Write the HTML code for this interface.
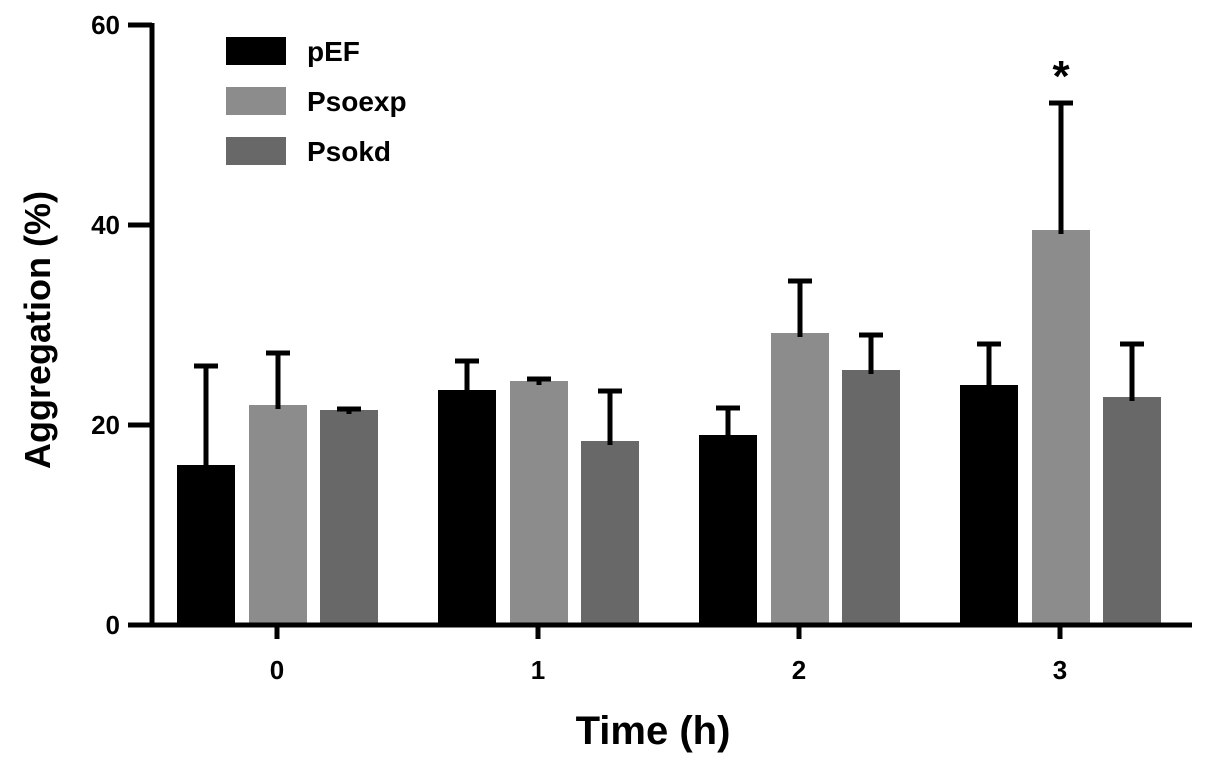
<!DOCTYPE html>
<html><head><meta charset="utf-8"><style>
html,body{margin:0;padding:0;background:#fff;}
svg text{font-family:"Liberation Sans",Arial,sans-serif;font-weight:bold;}
</style></head><body>
<svg id="chart" width="1205" height="763" viewBox="0 0 1205 763" xmlns="http://www.w3.org/2000/svg"></svg>
<script>
const categories = ["0","1","2","3"];
const seriesNames = ["pEF","Psoexp","Psokd"];
const pEF = [16.0, 23.5, 19.0, 24.0];
const pEFErr = [9.9, 2.9, 2.7, 4.1];
const psoexp = [22.0, 24.4, 29.2, 39.5];
const psoexpErr = [5.2, 0.2, 5.2, 12.7];
const psokd = [21.5, 18.4, 25.5, 22.8];
const psokdErr = [0.1, 5.0, 3.5, 5.3];
const yTicks = [0, 20, 40, 60];
const significance = ["", "", "", "*"];

const svg = document.getElementById('chart');
const NS = 'http://www.w3.org/2000/svg';
const colors = ["#000000", "#8c8c8c", "#686868"];
const values = [pEF, psoexp, psokd];
const errs = [pEFErr, psoexpErr, psokdErr];
const y0 = 625, yPx = 10.0;
function yScale(v){ return y0 - v * yPx; }
function xScale(i){ return 277 + i * 261; }
const offsets = [-71, 1, 72], bw = 58;
function mk(tag, attrs){ const e = document.createElementNS(NS, tag); for (const k in attrs) e.setAttribute(k, attrs[k]); svg.appendChild(e); return e; }

values.forEach((arr, s) => {
  arr.forEach((v, i) => {
    const cx = xScale(i) + offsets[s];
    const r = mk('rect', {x: cx - bw/2, y: yScale(v), width: bw, height: y0 - yScale(v), fill: colors[s]});
    
    
    const top = yScale(v + errs[s][i]);
    const g = mk('path', {d: `M${cx} ${yScale(v)+4} V${top} M${cx-12} ${top} H${cx+12}`, stroke: '#000', 'stroke-width': 5, fill: 'none'});
    
    
  });
});
significance.forEach((t, i) => {
  if (!t) return;
  const v = psoexp[i] + psoexpErr[i];
  const e = mk('text', {x: xScale(i) + offsets[1], y: yScale(v) - 12, 'font-size': 44, 'text-anchor': 'middle'});
  e.textContent = t;
  
  
});
const ya = mk('line', {x1: 152, y1: yScale(60) - 2, x2: 152, y2: y0 + 2, stroke: '#000', 'stroke-width': 5});


const xa = mk('line', {x1: 128, y1: y0, x2: 1192, y2: y0, stroke: '#000', 'stroke-width': 5});


yTicks.forEach(t => {
  const l = mk('line', {x1: 128, y1: yScale(t), x2: 152, y2: yScale(t), stroke: '#000', 'stroke-width': 5});
  
  
  const tx = mk('text', {x: 120, y: yScale(t) + 9, 'font-size': 26, 'text-anchor': 'end'});
  tx.textContent = t;
  
  
});
categories.forEach((c, i) => {
  const l = mk('line', {x1: xScale(i), y1: y0, x2: xScale(i), y2: y0 + 14, stroke: '#000', 'stroke-width': 5});
  
  
  const tx = mk('text', {x: xScale(i), y: 679, 'font-size': 26, 'text-anchor': 'middle'});
  tx.textContent = c;
  
  
});
const xt = mk('text', {x: 653, y: 744, 'font-size': 40, 'text-anchor': 'middle'});
xt.textContent = 'Time (h)';


const yt = mk('text', {x: 0, y: 0, 'font-size': 36, 'text-anchor': 'middle', transform: 'translate(50 330) rotate(-90)'});
yt.textContent = 'Aggregation (%)';


seriesNames.forEach((n, s) => {
  const y = 37 + s * 50;
  const r = mk('rect', {x: 226, y: y, width: 60, height: 28, fill: colors[s]});
  
  
  const t = mk('text', {x: 307, y: y + 24, 'font-size': 28});
  t.textContent = n;
  
  
});
</script>
</body></html>
